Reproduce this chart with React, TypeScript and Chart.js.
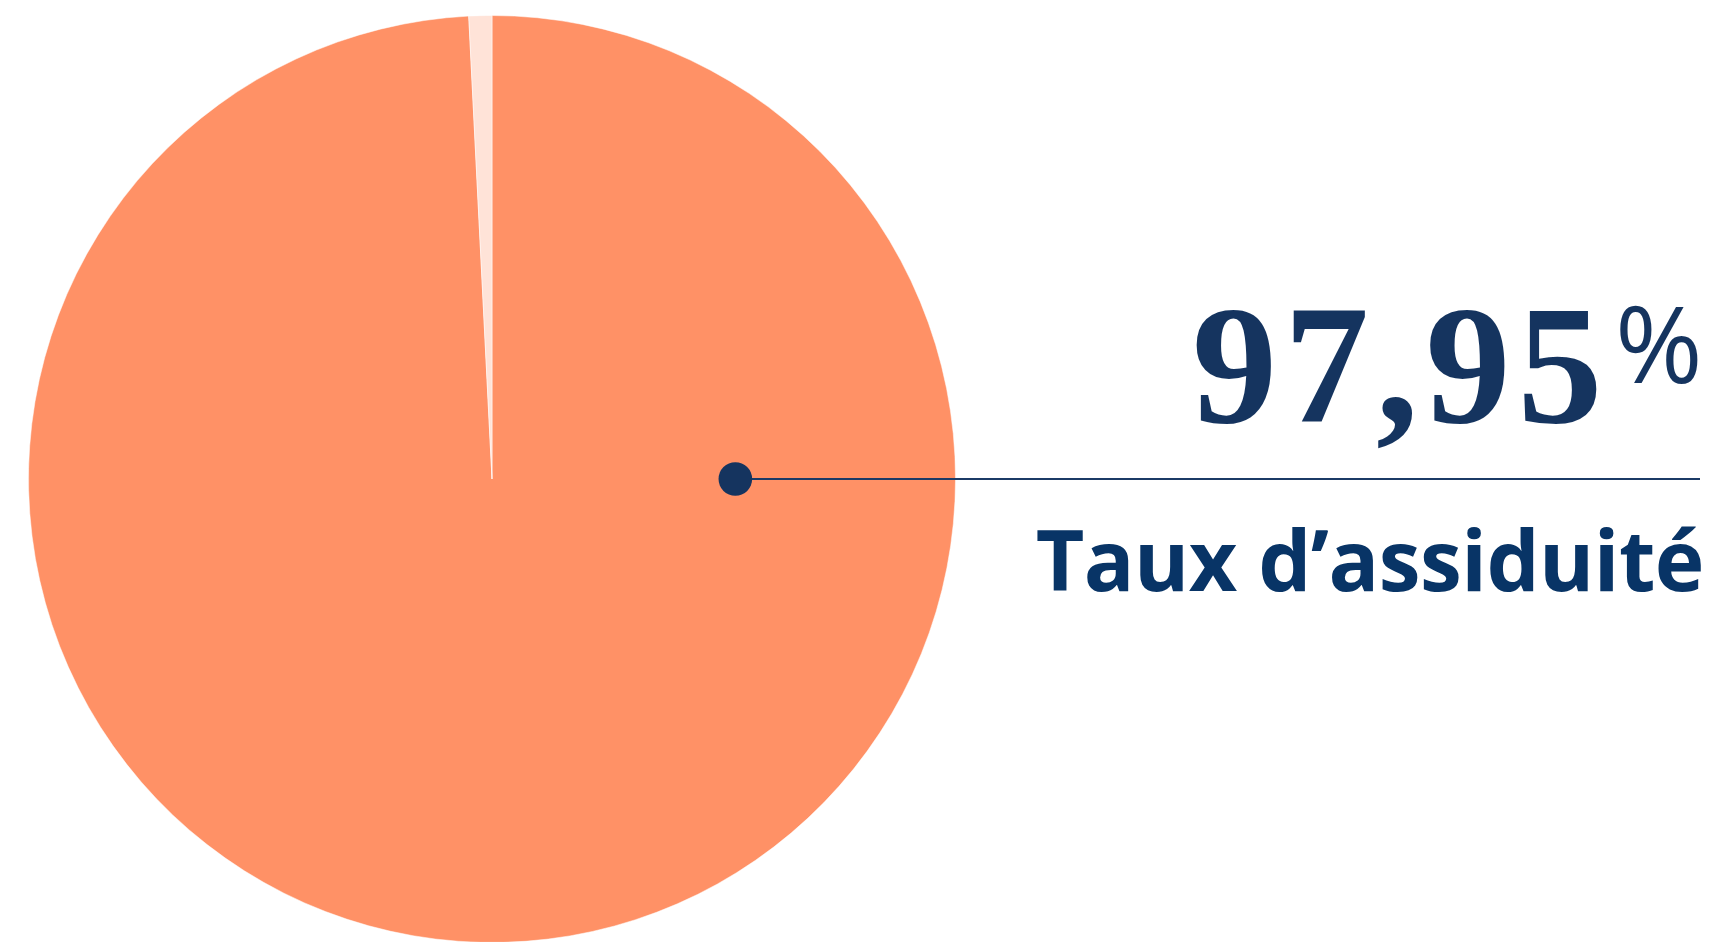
import React, { useEffect, useRef } from "react";
import { Chart, registerables } from "chart.js";

Chart.register(...registerables);

const categories = ["Présent", "Absent"];
const values = [99.2, 0.8];
const sliceColors = ["#FF9166", "#FFE3D8"];
const headline = "97,95";
const unit = "%";
const caption = "Taux d’assiduité";

const NAVY = "#15345F";
const CAPTION_NAVY = "#083466";

const overlayPlugin = {
  id: "overlay",
  afterDraw(chart: any) {
    const ctx = chart.ctx as CanvasRenderingContext2D;
    const arc = chart.getDatasetMeta(0).data[0] as any;
    const cx = arc.x;
    const cy = arc.y;
    const r = arc.outerRadius;
    const dotX = cx + r * 0.525;
    ctx.save();
    // line
    ctx.strokeStyle = "#1B3A66";
    ctx.lineWidth = 2;
    ctx.beginPath();
    ctx.moveTo(dotX, cy);
    ctx.lineTo(1700, cy);
    ctx.stroke();
    // dot
    ctx.fillStyle = NAVY;
    ctx.beginPath();
    ctx.arc(dotX, cy, 16.8, 0, Math.PI * 2);
    ctx.fill();
    // headline number
    ctx.fillStyle = NAVY;
    ctx.textBaseline = "alphabetic";
    ctx.textAlign = "left";
    ctx.font = 'bold 170px "Liberation Serif"';
    (ctx as any).letterSpacing = "7px";
    ctx.fillText(headline, 1192, 422);
    (ctx as any).letterSpacing = "0px";
    ctx.font = '106px "Open Sans"';
    ctx.fillText(unit, 1615, 383);
    // caption
    ctx.fillStyle = CAPTION_NAVY;
    ctx.textAlign = "right";
    ctx.font = 'bold 84px "Open Sans"';
    (ctx as any).letterSpacing = "-0.5px";
    ctx.fillText(caption, 1704, 591);
    (ctx as any).letterSpacing = "0px";
    ctx.restore();
  },
};

export default function App() {
  const ref = useRef<HTMLCanvasElement | null>(null);
  useEffect(() => {
    document.body.style.margin = "0";
    const canvas = ref.current!;
    const chart = new Chart(canvas, {
      type: "pie",
      data: {
        labels: categories,
        datasets: [
          {
            data: values,
            backgroundColor: sliceColors,
            borderColor: "rgba(255,255,255,0.5)",
            borderWidth: 1,
          },
        ],
      },
      options: {
        responsive: false,
        animation: false,
        layout: { padding: { top: 15, bottom: 2, left: 28, right: 764 } },
        plugins: {
          legend: { display: false },
          tooltip: { enabled: false },
        },
      },
      plugins: [overlayPlugin],
    });
    return () => chart.destroy();
  }, []);
  return (
    <div style={{ position: "fixed", left: 0, top: 0, width: 1720, height: 942, overflow: "hidden", background: "#fff" }}>
      <canvas ref={ref} width={1720} height={945} style={{ display: "block", width: 1720, height: 945 }} />
    </div>
  );
}
